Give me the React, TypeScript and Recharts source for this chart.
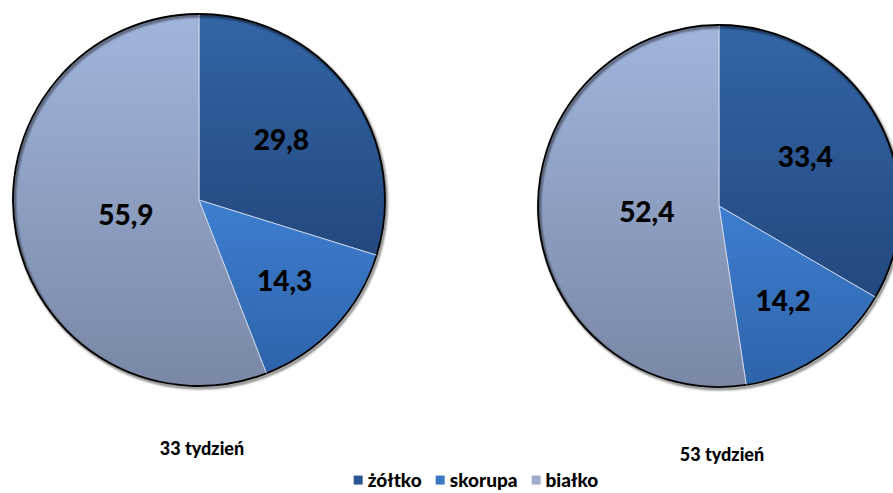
import { PieChart, Pie, Cell, Sector } from 'recharts'

const categories = ['żółtko', 'skorupa', 'białko']
const week33 = [29.8, 14.3, 55.9]
const week53 = [33.4, 14.2, 52.4]
const titles = ['33 tydzień', '53 tydzień']

const gradients = [
  ['#3365a6', '#23487e'],
  ['#3e7ed0', '#2e63aa'],
  ['#a1b5dd', '#7a88a6'],
]
const legendColors = ['#2b5692', '#3a78c6', '#9eabcc']
const labelFactor = [0.55, 0.63, 0.4]
const RAD = Math.PI / 180
const font = 'Lato, "Open Sans", sans-serif'

const toRows = (vals: number[]) => categories.map((name, i) => ({ name, value: vals[i] }))

function renderLabel(p: any) {
  const r = p.outerRadius * labelFactor[p.index]
  const x = p.cx + r * Math.cos(-p.midAngle * RAD)
  const y = p.cy + r * Math.sin(-p.midAngle * RAD)
  return (
    <text x={x} y={y} textAnchor="middle" dominantBaseline="central" fill="#000"
      style={{ fontFamily: font, fontWeight: 900, fontSize: 28 }}>
      {String(p.value).replace('.', ',')}
    </text>
  )
}

// outer edge arc of a sector, used for the black rim
function arcPath(cx: number, cy: number, r: number, a0: number, a1: number) {
  const x0 = cx + r * Math.cos(-a0 * RAD)
  const y0 = cy + r * Math.sin(-a0 * RAD)
  const x1 = cx + r * Math.cos(-a1 * RAD)
  const y1 = cy + r * Math.sin(-a1 * RAD)
  const large = Math.abs(a1 - a0) > 180 ? 1 : 0
  const sweep = a1 < a0 ? 1 : 0
  return `M${x0},${y0} A${r},${r} 0 ${large} ${sweep} ${x1},${y1}`
}

function rimShape(props: any) {
  const { cx, cy, outerRadius, startAngle, endAngle } = props
  return (
    <g>
      <Sector {...props} />
      <path d={arcPath(cx + 1.5, cy + 2, outerRadius, startAngle, endAngle)} fill="none"
        stroke="#000" strokeOpacity={0.55} strokeWidth={2.5} filter="url(#shadow)" />
      <path d={arcPath(cx, cy, outerRadius, startAngle, endAngle)} fill="none" stroke="#000" strokeWidth={1.8} />
    </g>
  )
}

function piePie(data: number[], cx: number, cy: number, r: number, id: string) {
  return (
    <Pie key={id} data={toRows(data)} dataKey="value" cx={cx} cy={cy} outerRadius={r}
      startAngle={90} endAngle={-270} isAnimationActive={false} label={renderLabel} labelLine={false}
      stroke="#d8e0f0" strokeWidth={0.8} shape={rimShape} inactiveShape={rimShape}>
      {categories.map((c, i) => <Cell key={c} fill={`url(#g${i})`} />)}
    </Pie>
  )
}

export default function App() {
  return (
    <div style={{ position: 'absolute', left: 0, top: 0, width: 893, height: 493, background: '#fff', fontFamily: font, overflow: 'hidden' }}>
      <PieChart width={893} height={493} margin={{ top: 0, right: 0, bottom: 0, left: 0 }}>
        <defs>
          {gradients.map(([a, b], i) => (
            <linearGradient key={i} id={`g${i}`} x1="0" y1="0" x2="0" y2="1">
              <stop offset="0%" stopColor={a} />
              <stop offset="100%" stopColor={b} />
            </linearGradient>
          ))}
          <filter id="shadow" x="-10%" y="-10%" width="120%" height="120%">
            <feGaussianBlur stdDeviation="0.8" />
          </filter>
        </defs>
        {piePie(week33, 199, 200, 186, 'a')}
        {piePie(week53, 719, 206, 181, 'b')}
      </PieChart>
      <div style={{ position: 'absolute', left: 202, top: 448, transform: 'translate(-50%, -50%)', fontWeight: 900, fontSize: 18, lineHeight: 1, whiteSpace: 'nowrap' }}>
        {titles[0]}
      </div>
      <div style={{ position: 'absolute', left: 722, top: 454, transform: 'translate(-50%, -50%)', fontWeight: 900, fontSize: 18, lineHeight: 1, whiteSpace: 'nowrap' }}>
        {titles[1]}
      </div>
      <div style={{ position: 'absolute', left: 476, top: 480, transform: 'translate(-50%, -50%)', display: 'flex', alignItems: 'center', gap: 14, fontWeight: 900, fontSize: 19, lineHeight: 1.1, whiteSpace: 'nowrap' }}>
        {categories.map((c, i) => (
          <span key={c} style={{ display: 'flex', alignItems: 'center', gap: 5 }}>
            <span style={{ width: 9, height: 9, background: legendColors[i], display: 'inline-block' }} />
            {c}
          </span>
        ))}
      </div>
    </div>
  )
}
